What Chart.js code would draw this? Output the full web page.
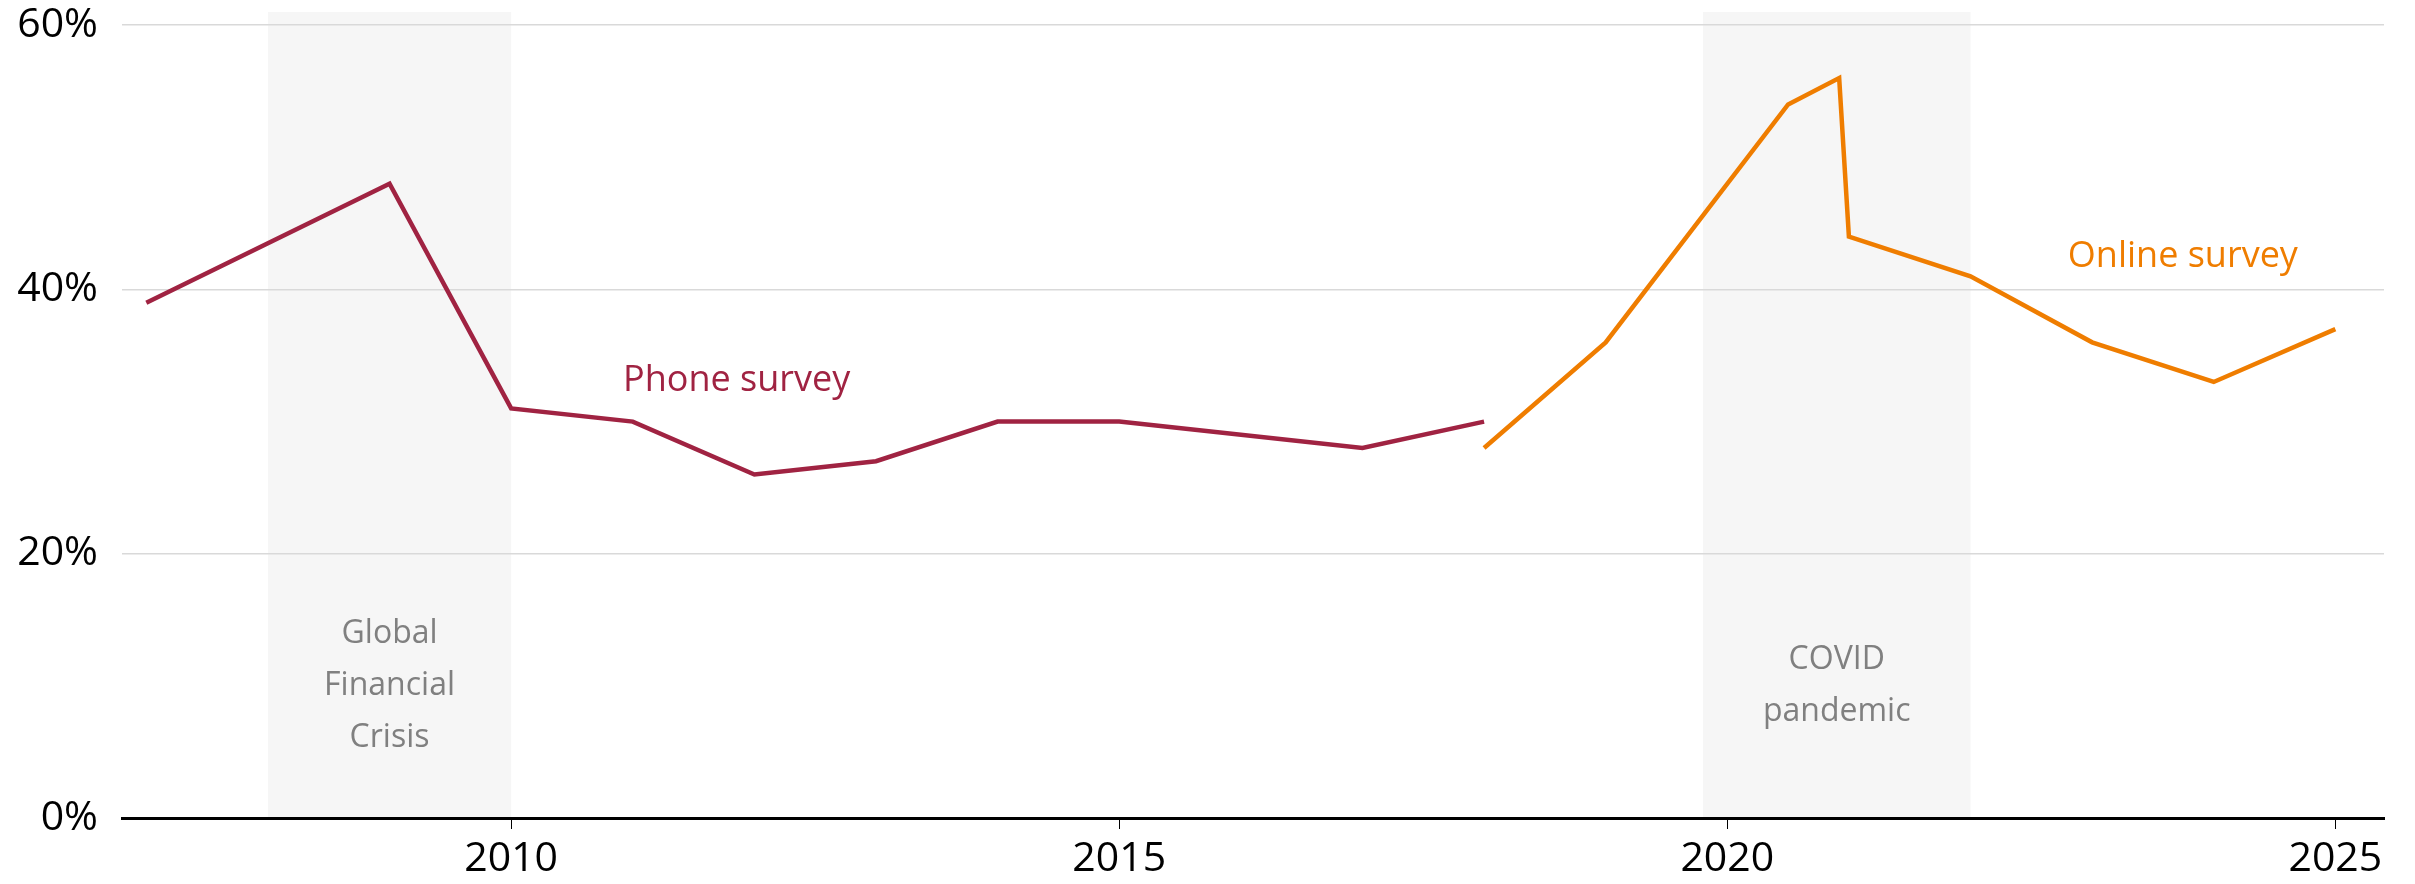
<!DOCTYPE html>
<html>
<head>
<meta charset="utf-8">
<script src="https://cdn.jsdelivr.net/npm/chart.js@4.4.1/dist/chart.umd.min.js"></script>
<style>
  html, body { margin: 0; padding: 0; background: #ffffff; }
  #wrap { width: 2415px; height: 884px; position: relative; }
</style>
</head>
<body>
<div id="wrap"><canvas id="grafico"></canvas></div>
<script>
// phone survey
var phoneYears = [2007, 2009, 2010, 2011, 2012, 2013, 2014, 2015, 2017, 2018];
var phoneValues = [39, 48, 31, 30, 26, 27, 30, 30, 28, 30];

// online survey
var onlineYears = [2018, 2019, 2020.5, 2020.92, 2021, 2022, 2023, 2024, 2025];
var onlineValues = [28, 36, 54, 56, 44, 41, 36, 33, 37];

var xTicks = [2010, 2015, 2020, 2025];
var yTicks = [0, 20, 40, 60];

// shaded periods
var bandStarts = [2008, 2019.8];
var bandEnds = [2010, 2022];
var bandLabels = [['Global', 'Financial', 'Crisis'], ['COVID', 'pandemic']];

const phoneColor = '#A02342';
const onlineColor = '#EF7D00';

function toPoints(xs, ys) {
  return xs.map(function (x, i) { return { x: x, y: ys[i] }; });
}

const bandsPlugin = {
  id: 'bands',
  beforeDraw: function (chart) {
    const ctx = chart.ctx;
    const xs = chart.scales.x;
    const area = chart.chartArea;
    ctx.save();
    ctx.fillStyle = '#F6F6F6';
    for (let i = 0; i < bandStarts.length; i++) {
      const l = xs.getPixelForValue(bandStarts[i]);
      const r = xs.getPixelForValue(bandEnds[i]);
      ctx.fillRect(l, area.top, r - l, area.bottom - area.top);
    }
    ctx.restore();
  },
  afterDatasetsDraw: function (chart) {
    const ctx = chart.ctx;
    const xs = chart.scales.x;
    const ys = chart.scales.y;
    ctx.save();
    ctx.font = '32px "Open Sans"';
    ctx.fillStyle = '#808080';
    ctx.textAlign = 'center';
    ctx.textBaseline = 'middle';
    const lineH = 52;
    for (let i = 0; i < bandStarts.length; i++) {
      const cx = xs.getPixelForValue((bandStarts[i] + bandEnds[i]) / 2);
      const cy = ys.getPixelForValue(10);
      const lines = bandLabels[i];
      const y0 = cy - (lines.length - 1) * lineH / 2;
      lines.forEach(function (t, k) { ctx.fillText(t, cx, y0 + k * lineH); });
    }
    // series labels
    ctx.font = '36px "Open Sans"';
    ctx.textAlign = 'left';
    ctx.fillStyle = phoneColor;
    ctx.fillText('Phone survey', xs.getPixelForValue(2010.92), ys.getPixelForValue(33.1));
    ctx.fillStyle = onlineColor;
    ctx.fillText('Online survey', xs.getPixelForValue(2022.8), ys.getPixelForValue(42.5));
    ctx.restore();
  }
};

const chartData = {
  datasets: [
    {
      label: 'Phone survey',
      data: toPoints(phoneYears, phoneValues),
      borderColor: phoneColor,
      borderWidth: 4.5,
      pointRadius: 0,
      tension: 0,
    },
    {
      label: 'Online survey',
      data: toPoints(onlineYears, onlineValues),
      borderColor: onlineColor,
      borderWidth: 4.5,
      pointRadius: 0,
      tension: 0,
    }
  ]
};

const options = {
  responsive: false,
  animation: false,
  layout: { padding: { left: 0, right: 31, top: 12, bottom: 0 } },
  plugins: {
    legend: { display: false },
    tooltip: { enabled: false }
  },
  scales: {
    x: {
      type: 'linear',
      min: 2006.8,
      max: 2025.4,
      afterBuildTicks: function (axis) {
        axis.ticks = xTicks.map(function (v) { return { value: v }; });
      },
      afterFit: function (axis) {
        axis.height = 66;
        axis.paddingLeft = 0;
        axis.paddingRight = 0;
      },
      grid: {
        drawOnChartArea: false,
        drawTicks: true,
        tickLength: 11,
        tickColor: '#000000',
        tickWidth: 1,
      },
      border: { display: true, color: '#000000', width: 3 },
      ticks: {
        color: '#000000',
        font: { family: 'Open Sans', size: 41 },
        padding: 6,
        maxRotation: 0,
        callback: function (v) { return String(v); }
      }
    },
    y: {
      min: 0,
      max: 61,
      afterBuildTicks: function (axis) {
        axis.ticks = yTicks.map(function (v) { return { value: v }; });
      },
      afterFit: function (axis) {
        axis.width = 122;
        axis.paddingTop = 0;
        axis.paddingBottom = 0;
      },
      grid: {
        color: '#D9D9D9',
        lineWidth: 1.5,
        drawTicks: false,
      },
      border: { display: false },
      ticks: {
        color: '#000000',
        font: { family: 'Open Sans', size: 41 },
        padding: 24,
        callback: function (v) { return v + '%'; }
      }
    }
  }
};

const canvas = document.getElementById('grafico');
canvas.width = 2415;
canvas.height = 884;

const myChart = new Chart(canvas, {
  type: 'line',
  data: chartData,
  options: options,
  plugins: [bandsPlugin]
});
</script>
</body>
</html>
